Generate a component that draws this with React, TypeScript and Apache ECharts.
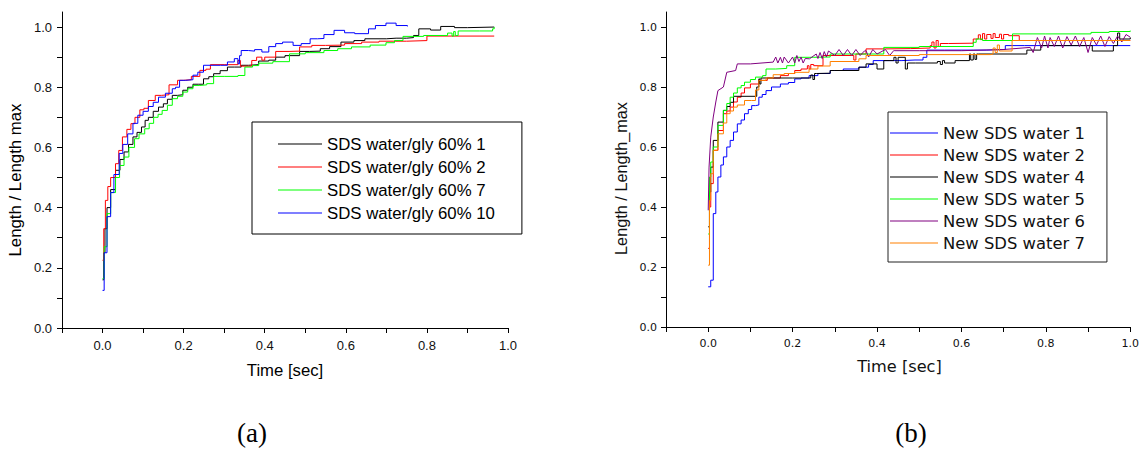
import React, { useEffect, useRef } from 'react';
import * as echarts from 'echarts';

// ---------- Data ----------
const leftNames = ['SDS water/gly 60% 1', 'SDS water/gly 60% 2', 'SDS water/gly 60% 7', 'SDS water/gly 60% 10'];
const leftColors = ['#000000', '#ff0000', '#00ff00', '#0000ff'];

const rightNames = ['New SDS water 1', 'New SDS water 2', 'New SDS water 4', 'New SDS water 5', 'New SDS water 6', 'New SDS water 7'];
const rightColors = ['#0000ff', '#ff0000', '#000000', '#00ff00', '#800080', '#ff8000'];

const xTicks = [-0.1, 0, 0.1, 0.2, 0.3, 0.4, 0.5, 0.6, 0.7, 0.8, 0.9, 1.0];
const xLabels = [0, 0.2, 0.4, 0.6, 0.8, 1.0];
const yTicks = [0, 0.1, 0.2, 0.3, 0.4, 0.5, 0.6, 0.7, 0.8, 0.9, 1.0];
const yLabels = [0, 0.2, 0.4, 0.6, 0.8, 1.0];

// (a) SDS water/gly 60% 1
const tA1 = [0, 0.003, 0.006, 0.011, 0.02, 0.032, 0.043, 0.053, 0.064, 0.075, 0.085, 0.096, 0.105, 0.113, 0.125, 0.138, 0.15, 0.16, 0.172, 0.185, 0.198, 0.21, 0.223, 0.236, 0.249, 0.262, 0.274, 0.29, 0.308, 0.325, 0.342, 0.36, 0.385, 0.41, 0.427, 0.45, 0.486, 0.51, 0.537, 0.56, 0.588, 0.62, 0.647, 0.7, 0.724, 0.75, 0.767, 0.778, 0.78, 0.809, 0.834, 0.868, 0.9, 0.966];
const vA1 = [0.16, 0.25, 0.33, 0.40, 0.46, 0.524, 0.56, 0.585, 0.61, 0.635, 0.65, 0.668, 0.69, 0.70, 0.72, 0.734, 0.745, 0.76, 0.773, 0.775, 0.79, 0.80, 0.81, 0.81, 0.828, 0.835, 0.845, 0.855, 0.867, 0.867, 0.873, 0.875, 0.887, 0.89, 0.90, 0.905, 0.919, 0.92, 0.928, 0.935, 0.95, 0.955, 0.961, 0.963, 0.963, 0.965, 0.972, 0.972, 0.994, 0.99, 1.002, 0.998, 1.0, 1.002];
// (a) SDS water/gly 60% 2
const tA2 = [0, 0.003, 0.007, 0.013, 0.02, 0.032, 0.04, 0.049, 0.06, 0.07, 0.08, 0.092, 0.102, 0.113, 0.13, 0.145, 0.164, 0.185, 0.2, 0.219, 0.24, 0.255, 0.266, 0.3, 0.334, 0.34, 0.368, 0.38, 0.393, 0.4, 0.427, 0.46, 0.486, 0.516, 0.55, 0.597, 0.639, 0.682, 0.75, 0.8, 0.966];
const vA2 = [0.225, 0.33, 0.424, 0.47, 0.50, 0.546, 0.59, 0.635, 0.66, 0.679, 0.70, 0.725, 0.73, 0.756, 0.773, 0.775, 0.808, 0.823, 0.825, 0.836, 0.856, 0.86, 0.875, 0.875, 0.889, 0.87, 0.889, 0.9, 0.89, 0.90, 0.919, 0.92, 0.934, 0.939, 0.94, 0.945, 0.95, 0.953, 0.955, 0.97, 0.97];
// (a) SDS water/gly 60% 7
const tA7 = [0, 0.004, 0.011, 0.02, 0.032, 0.042, 0.053, 0.065, 0.079, 0.09, 0.104, 0.115, 0.126, 0.137, 0.147, 0.16, 0.172, 0.185, 0.198, 0.21, 0.223, 0.24, 0.257, 0.274, 0.3, 0.334, 0.351, 0.37, 0.385, 0.42, 0.461, 0.5, 0.546, 0.58, 0.614, 0.66, 0.699, 0.72, 0.741, 0.792, 0.851, 0.862, 0.866, 0.87, 0.877, 0.93, 0.962, 0.966];
const vA7 = [0.164, 0.27, 0.38, 0.45, 0.50, 0.54, 0.568, 0.60, 0.629, 0.645, 0.662, 0.68, 0.70, 0.71, 0.723, 0.74, 0.762, 0.77, 0.784, 0.795, 0.806, 0.808, 0.812, 0.836, 0.836, 0.839, 0.867, 0.872, 0.88, 0.885, 0.911, 0.915, 0.922, 0.928, 0.934, 0.94, 0.948, 0.955, 0.969, 0.972, 0.98, 0.97, 0.985, 0.972, 0.987, 0.987, 0.994, 1.0];
// (a) SDS water/gly 60% 10
const tA10 = [0, 0.004, 0.011, 0.02, 0.028, 0.041, 0.05, 0.062, 0.075, 0.087, 0.1, 0.113, 0.125, 0.138, 0.155, 0.172, 0.18, 0.19, 0.205, 0.223, 0.235, 0.249, 0.27, 0.291, 0.308, 0.325, 0.334, 0.338, 0.342, 0.36, 0.375, 0.393, 0.41, 0.427, 0.444, 0.47, 0.49, 0.512, 0.53, 0.546, 0.571, 0.597, 0.622, 0.656, 0.673, 0.699, 0.724, 0.752];
const vA10 = [0.125, 0.25, 0.37, 0.45, 0.51, 0.58, 0.61, 0.645, 0.68, 0.707, 0.72, 0.736, 0.75, 0.767, 0.78, 0.795, 0.80, 0.823, 0.825, 0.84, 0.85, 0.873, 0.873, 0.873, 0.884, 0.895, 0.878, 0.905, 0.922, 0.92, 0.925, 0.917, 0.935, 0.945, 0.95, 0.939, 0.945, 0.961, 0.962, 0.975, 0.989, 0.981, 0.978, 0.994, 1.005, 1.013, 1.005, 1.002];

// (b) New SDS water 1
const tB1 = [0, 0.006, 0.012, 0.018, 0.023, 0.03, 0.036, 0.044, 0.052, 0.06, 0.069, 0.078, 0.086, 0.095, 0.103, 0.112, 0.12, 0.128, 0.137, 0.15, 0.171, 0.19, 0.205, 0.22, 0.239, 0.26, 0.289, 0.32, 0.357, 0.38, 0.391, 0.43, 0.459, 0.49, 0.509, 0.518, 0.56, 0.628, 0.66, 0.704, 0.75, 1.0];
const vB1 = [0.134, 0.156, 0.378, 0.45, 0.50, 0.54, 0.567, 0.60, 0.622, 0.65, 0.677, 0.69, 0.711, 0.725, 0.738, 0.74, 0.766, 0.775, 0.788, 0.80, 0.81, 0.815, 0.827, 0.83, 0.838, 0.845, 0.855, 0.86, 0.866, 0.875, 0.888, 0.888, 0.89, 0.89, 0.899, 0.923, 0.923, 0.923, 0.925, 0.938, 0.938, 0.938];
// (b) New SDS water 2
const tB2 = [0, 0.003, 0.006, 0.012, 0.023, 0.036, 0.044, 0.052, 0.06, 0.069, 0.078, 0.086, 0.1, 0.12, 0.14, 0.171, 0.19, 0.205, 0.22, 0.235, 0.239, 0.243, 0.25, 0.272, 0.3, 0.34, 0.345, 0.35, 0.374, 0.42, 0.48, 0.526, 0.53, 0.535, 0.54, 0.545, 0.55, 0.569, 0.628, 0.64, 0.645, 0.65, 0.655, 0.66, 0.67, 0.675, 0.68, 0.69, 0.695, 0.7, 0.712, 0.737, 1.0];
const vB2 = [0.262, 0.40, 0.478, 0.589, 0.655, 0.711, 0.72, 0.733, 0.75, 0.766, 0.78, 0.797, 0.81, 0.822, 0.83, 0.838, 0.845, 0.855, 0.86, 0.871, 0.86, 0.875, 0.871, 0.905, 0.905, 0.905, 0.89, 0.91, 0.927, 0.928, 0.93, 0.938, 0.95, 0.93, 0.955, 0.935, 0.945, 0.946, 0.96, 0.974, 0.958, 0.978, 0.96, 0.975, 0.962, 0.978, 0.965, 0.976, 0.96, 0.975, 0.971, 0.955, 0.955];
// (b) New SDS water 4
const tB4 = [0, 0.003, 0.006, 0.012, 0.023, 0.036, 0.044, 0.052, 0.06, 0.112, 0.115, 0.12, 0.122, 0.125, 0.2, 0.239, 0.243, 0.248, 0.252, 0.256, 0.289, 0.3, 0.31, 0.357, 0.374, 0.395, 0.4, 0.416, 0.44, 0.445, 0.45, 0.467, 0.472, 0.491, 0.543, 0.55, 0.555, 0.56, 0.585, 0.619, 0.622, 0.628, 0.632, 0.636, 0.64, 0.755, 0.788, 0.9, 0.91, 0.96, 0.97, 0.975, 1.0];
const vB4 = [0.334, 0.45, 0.533, 0.622, 0.683, 0.722, 0.735, 0.749, 0.769, 0.769, 0.80, 0.827, 0.81, 0.83, 0.83, 0.83, 0.84, 0.825, 0.845, 0.846, 0.855, 0.855, 0.855, 0.866, 0.877, 0.877, 0.86, 0.888, 0.899, 0.88, 0.899, 0.86, 0.88, 0.88, 0.885, 0.875, 0.888, 0.88, 0.888, 0.91, 0.89, 0.91, 0.892, 0.91, 0.91, 0.923, 0.938, 0.938, 0.92, 0.938, 0.98, 0.96, 0.965];
// (b) New SDS water 5
const tB5 = [0, 0.003, 0.006, 0.012, 0.023, 0.036, 0.044, 0.052, 0.06, 0.069, 0.078, 0.086, 0.1, 0.112, 0.129, 0.137, 0.16, 0.186, 0.205, 0.25, 0.289, 0.35, 0.416, 0.5, 0.628, 0.635, 0.65, 0.721, 0.8, 0.907, 0.95, 1.0];
const vB5 = [0.31, 0.50, 0.55, 0.60, 0.672, 0.722, 0.745, 0.766, 0.78, 0.797, 0.805, 0.816, 0.825, 0.833, 0.838, 0.86, 0.862, 0.871, 0.899, 0.90, 0.91, 0.91, 0.932, 0.935, 0.949, 0.96, 0.955, 0.977, 0.977, 0.982, 0.985, 0.988];
// (b) New SDS water 6
const tB6 = [0, 0.002, 0.006, 0.012, 0.018, 0.023, 0.036, 0.044, 0.065, 0.069, 0.1, 0.154, 0.16, 0.165, 0.171, 0.176, 0.18, 0.19, 0.2, 0.205, 0.21, 0.215, 0.22, 0.225, 0.23, 0.24, 0.256, 0.26, 0.265, 0.27, 0.275, 0.28, 0.285, 0.289, 0.3, 0.31, 0.32, 0.33, 0.34, 0.35, 0.36, 0.37, 0.374, 0.38, 0.39, 0.4, 0.42, 0.43, 0.44, 0.442, 0.5, 0.6, 0.7, 0.763, 0.77, 0.78, 0.79, 0.797, 0.805, 0.81, 0.82, 0.83, 0.84, 0.85, 0.86, 0.87, 0.88, 0.89, 0.9, 0.91, 0.92, 0.93, 0.94, 0.95, 0.96, 0.97, 0.98, 0.99, 1.0];
const vB6 = [0.389, 0.533, 0.633, 0.70, 0.75, 0.788, 0.80, 0.849, 0.855, 0.877, 0.877, 0.883, 0.90, 0.88, 0.899, 0.88, 0.90, 0.88, 0.90, 0.88, 0.905, 0.885, 0.90, 0.88, 0.895, 0.894, 0.91, 0.895, 0.915, 0.895, 0.918, 0.9, 0.92, 0.916, 0.905, 0.925, 0.905, 0.925, 0.905, 0.925, 0.905, 0.92, 0.921, 0.9, 0.925, 0.91, 0.925, 0.905, 0.922, 0.921, 0.921, 0.921, 0.925, 0.932, 0.915, 0.965, 0.93, 0.97, 0.93, 0.965, 0.935, 0.97, 0.93, 0.968, 0.94, 0.97, 0.935, 0.965, 0.915, 0.965, 0.94, 0.97, 0.935, 0.968, 0.945, 0.97, 0.95, 0.975, 0.966];
// (b) New SDS water 7
const tB7 = [0, 0.003, 0.006, 0.012, 0.023, 0.036, 0.044, 0.052, 0.06, 0.069, 0.086, 0.103, 0.112, 0.12, 0.137, 0.154, 0.18, 0.205, 0.239, 0.26, 0.289, 0.357, 0.374, 0.5, 0.67, 0.675, 0.68, 0.685, 0.69, 0.72, 1.0];
const vB7 = [0.206, 0.422, 0.511, 0.589, 0.644, 0.68, 0.711, 0.72, 0.733, 0.74, 0.755, 0.755, 0.79, 0.822, 0.83, 0.841, 0.845, 0.849, 0.86, 0.87, 0.885, 0.894, 0.905, 0.908, 0.91, 0.93, 0.915, 0.94, 0.92, 0.955, 0.955];

const leftT = [tA1, tA2, tA7, tA10];
const leftV = [vA1, vA2, vA7, vA10];
const rightT = [tB1, tB2, tB4, tB5, tB6, tB7];
const rightV = [vB1, vB2, vB4, vB5, vB6, vB7];
const rightStep = ['end', 'end', 'end', 'end', false, 'end'];

const FONT = '"Liberation Sans", Arial, sans-serif';
const WIDE = '"DejaVu Sans", Verdana, sans-serif';
const SERIF = '"Liberation Serif", "Times New Roman", serif';

const zip = (t: number[], v: number[]) => t.map((x, i) => [x, v[i]]);

function makeXAxis(gridIndex: number, fs: number, fam: string, margin: number) {
  return {
    type: 'value', gridIndex, min: -0.1, max: 1.0,
    axisLine: { show: true, onZero: false, lineStyle: { color: '#000', width: 1 } },
    axisTick: { show: true, length: 5, customValues: xTicks, lineStyle: { color: '#000', width: 1 } },
    axisLabel: { customValues: xLabels, formatter: (v: number) => v.toFixed(1), margin, fontSize: fs, color: '#111', fontFamily: fam },
    splitLine: { show: false },
  };
}
function makeYAxis(gridIndex: number, fs: number, fam: string, margin: number) {
  return {
    type: 'value', gridIndex, min: 0, max: 1.05,
    axisLine: { show: true, onZero: false, lineStyle: { color: '#000', width: 1 } },
    axisTick: { show: true, length: 5, customValues: yTicks, lineStyle: { color: '#000', width: 1 } },
    axisLabel: { customValues: yLabels, formatter: (v: number) => v.toFixed(1), margin, fontSize: fs, color: '#111', fontFamily: fam },
    splitLine: { show: false },
  };
}

export default function App() {
  const ref = useRef<HTMLDivElement>(null);
  useEffect(() => {
    if (!ref.current) return;
    const chart = echarts.init(ref.current, null, { renderer: 'svg' });
    const series: any[] = [];
    leftNames.forEach((name, i) => {
      series.push({
        name, type: 'line', xAxisIndex: 0, yAxisIndex: 0, data: zip(leftT[i], leftV[i]),
        step: 'end', showSymbol: false, symbol: 'none',
        lineStyle: { color: leftColors[i], width: 1 }, itemStyle: { color: leftColors[i] },
      });
    });
    rightNames.forEach((name, i) => {
      series.push({
        name, type: 'line', xAxisIndex: 1, yAxisIndex: 1, data: zip(rightT[i], rightV[i]),
        step: rightStep[i], showSymbol: false, symbol: 'none',
        lineStyle: { color: rightColors[i], width: 1 }, itemStyle: { color: rightColors[i] },
      });
    });
    chart.setOption({
      animation: false,
      backgroundColor: '#ffffff',
      grid: [
        { left: 62, top: 12, width: 446, height: 316 },
        { left: 666, top: 12, width: 466, height: 315 },
      ],
      xAxis: [makeXAxis(0, 13, FONT, 11), makeXAxis(1, 11, WIDE, 11)],
      yAxis: [makeYAxis(0, 13, FONT, 10), makeYAxis(1, 11, WIDE, 9)],
      legend: [
        {
          data: leftNames, orient: 'vertical', left: 252, top: 122,
          padding: [13, 27, 12, 26], itemGap: 5, itemWidth: 44, itemHeight: 1, icon: 'rect',
          borderColor: '#000', borderWidth: 1, selectedMode: false,
          textStyle: { fontSize: 16.8, lineHeight: 18, fontFamily: FONT, color: '#000' },
        },
        {
          data: rightNames, orient: 'vertical', left: 888, top: 112,
          padding: [12, 22, 10, 2], itemGap: 4, itemWidth: 48, itemHeight: 1, icon: 'rect',
          borderColor: '#222', borderWidth: 1, selectedMode: false,
          textStyle: { fontSize: 16.4, lineHeight: 18, fontFamily: WIDE, color: '#111' },
        },
      ],
      graphic: [
        { type: 'text', x: 15.5, y: 180, rotation: Math.PI / 2, style: { text: 'Length / Length max', font: `16.8px ${FONT}`, fill: '#000', align: 'center', verticalAlign: 'middle' } },
        { type: 'text', x: 621, y: 178.5, rotation: Math.PI / 2, style: { text: 'Length / Length_max', font: `16.3px ${FONT}`, fill: '#111', align: 'center', verticalAlign: 'middle' } },
        { type: 'text', x: 285, y: 370, style: { text: 'Time [sec]', font: `16.7px ${FONT}`, fill: '#000', align: 'center', verticalAlign: 'middle' } },
        { type: 'text', x: 899.5, y: 366, style: { text: 'Time [sec]', font: `16.2px ${WIDE}`, fill: '#111', align: 'center', verticalAlign: 'middle' } },
        { type: 'text', x: 252, y: 433, style: { text: '(a)', font: `27px ${SERIF}`, fill: '#000', align: 'center', verticalAlign: 'middle' } },
        { type: 'text', x: 911, y: 433, style: { text: '(b)', font: `27px ${SERIF}`, fill: '#000', align: 'center', verticalAlign: 'middle' } },
      ],
      series,
    });
    return () => chart.dispose();
  }, []);
  return <div ref={ref} style={{ position: 'fixed', left: 0, top: 0, width: 1142, height: 449, background: '#fff' }} />;
}
